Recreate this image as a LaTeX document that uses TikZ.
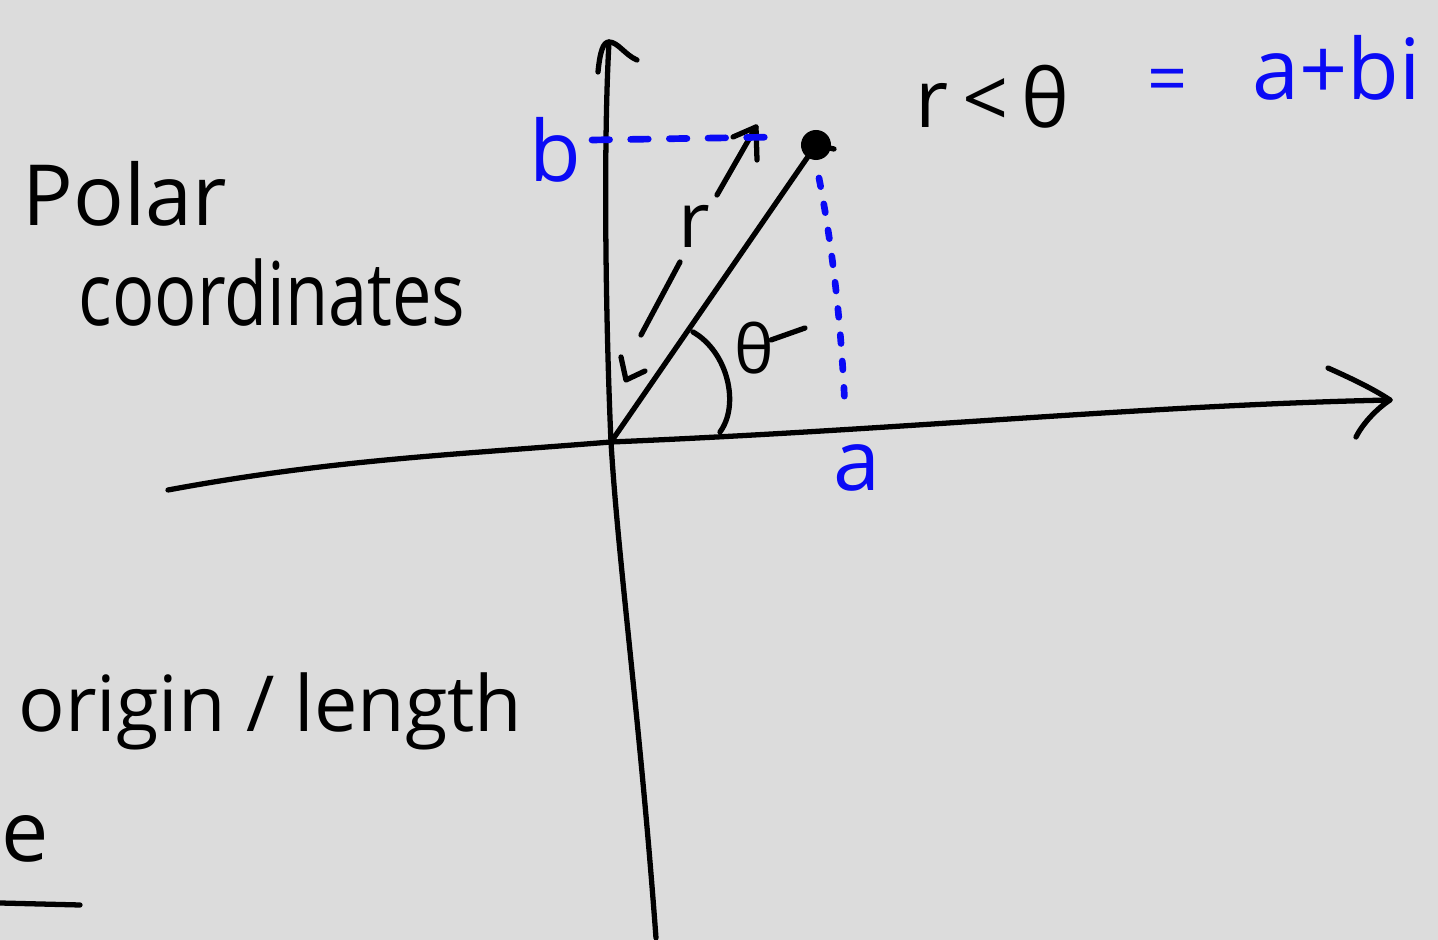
\documentclass[tikz,border=0pt]{standalone}
\usepackage{fontspec}
\setmainfont{Open Sans}
\usetikzlibrary{arrows.meta}
\definecolor{paper}{RGB}{220,220,220}
\definecolor{pen}{RGB}{0,0,0}
\definecolor{bluepen}{RGB}{10,10,245}
\begin{document}
\begin{tikzpicture}[x=0.01cm,y=-0.01cm,line cap=round,line join=round,
  ink/.style={draw=pen,line width=1.5pt},
  blueink/.style={draw=bluepen,line width=1.9pt},
  txt/.style={inner sep=0pt,text=pen},
  btxt/.style={inner sep=0pt,text=bluepen}]
\fill[paper] (0,0) rectangle (1438,940);
\useasboundingbox (0,0) rectangle (1438,940);

% key points
\coordinate (O) at (611,442);
\coordinate (P) at (816,145);
\coordinate (ytop) at (609,42);
\coordinate (ybot) at (656,938);
\coordinate (xleft) at (168,490);
\coordinate (xright) at (1390,400);

% y-axis and its head
\draw[ink] (ybot) .. controls (640,720) and (618,560) .. (O) .. controls (606,330) and (603,150) .. (ytop);
\draw[ink] (598,72) .. controls (600,52) and (603,42) .. (ytop) .. controls (618,42) and (625,55) .. (637,60);

% x-axis and its head
\draw[ink] (xleft) .. controls (330,460) and (450,455) .. (O) .. controls (900,430) and (1150,405) .. (xright);
\draw[ink] (1328,368) .. controls (1355,380) and (1375,390) .. (xright) .. controls (1375,410) and (1362,425) .. (1356,437);

% radius line and point
\draw[ink] (O) -- (P);
\fill[pen] (P) circle (0.15cm);
\draw[ink] (P) -- (834,149);

% r arrows
\coordinate (rtop) at (756,127);
\coordinate (rbot) at (626,380);
\draw[ink] (717,195) -- (rtop);
\draw[ink] (733,137) -- (rtop) -- (757,160);
\draw[ink] (680,262) -- (641,335);
\draw[ink] (621,357) -- (rbot) -- (645,371);
\node[txt, font=\fontsize{22}{26}\selectfont] (rlab) at (694,226) {r};

% angle
\draw[ink] (693,332) .. controls (728,352) and (740,405) .. (720,432);
\node[txt, font=\fontsize{19}{22}\selectfont] (theta) at (754,348) {θ};
\draw[ink] (771,340) -- (805,328);

% blue projections
\node[btxt, font=\fontsize{24}{28}\selectfont] (b) at (555,150) {b};
\node[btxt, font=\fontsize{24}{28}\selectfont] (a) at (857,468) {a};
\coordinate (bstart) at (592,140);
\coordinate (bend) at (778,137);
\draw[blueink, dash pattern=on 5pt off 6pt] (bstart) -- (bend);
\coordinate (astart) at (819,178);
\coordinate (aend) at (845,410);
\draw[blueink, dash pattern=on 2.5pt off 5pt] (astart) .. controls (835,260) and (842,340) .. (aend);

% formula
\node[txt, anchor=base west, font=\fontsize{23}{28}\selectfont] (rtheta) at (915,128) {r\,<\,θ};
\node[btxt, font=\fontsize{20}{24}\selectfont] (eq) at (1168,86) {=};
\node[btxt, anchor=base west, font=\fontsize{24}{28}\selectfont] (abi) at (1252,100) {a+bi};

% left texts
\node[txt, anchor=base west, font=\fontsize{24}{29}\selectfont] (polar) at (22,226) {Polar};
\node[txt, anchor=base west, font=\fontsize{25}{30}\selectfont] (coord) at (78,326) {\scalebox{0.8}[1]{coordinates}};
\node[txt, anchor=base west, font=\fontsize{22}{26}\selectfont] (orig) at (18,732) {origin / length};
\node[txt, anchor=base west, font=\fontsize{24}{28}\selectfont] (e) at (1,862) {e};
\coordinate (u1) at (0,903);
\coordinate (u2) at (80,905);
\draw[ink] (u1) -- (u2);
\end{tikzpicture}
\end{document}
